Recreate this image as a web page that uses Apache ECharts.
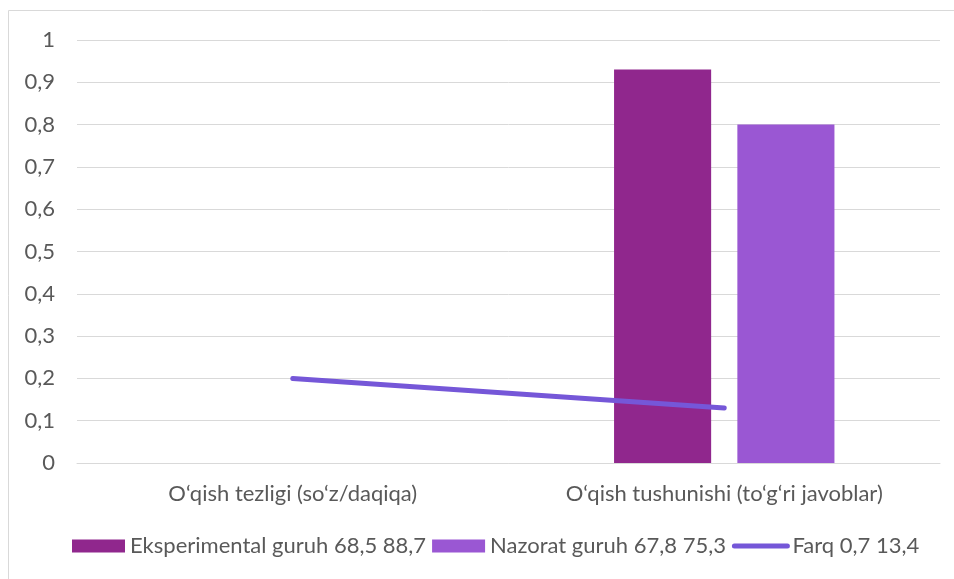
<!DOCTYPE html>
<html>
<head>
<meta charset="utf-8">
<script src="https://cdn.jsdelivr.net/npm/echarts@6/dist/echarts.min.js"></script>
<style>
  html, body { margin: 0; padding: 0; background: #fff; }
  #main { width: 954px; height: 579px; }
</style>
</head>
<body>
<div id="main"></div>
<script>
// toifalar (x o'qi)
var categories = ['O\u2018qish tezligi (so\u2018z/daqiqa)', 'O\u2018qish tushunishi (to\u2018g\u2018ri javoblar)'];
// seriya nomlari
var seriesNames = ['Eksperimental guruh 68,5 88,7', 'Nazorat guruh 67,8 75,3', 'Farq 0,7 13,4'];
// qiymatlar (rasmdan o'qilgan)
var eksperimental = [null, 0.93];
var nazorat = [null, 0.80];
var farq = [0.20, 0.13];
// y o'qi belgilari
var yTicks = [0, 0.1, 0.2, 0.3, 0.4, 0.5, 0.6, 0.7, 0.8, 0.9, 1];

var textColor = '#595959';
var fontName = 'Lato';
var fs = 22;

var chart = echarts.init(document.getElementById('main'));
chart.setOption({
  animation: false,
  textStyle: { fontFamily: fontName },
  graphic: [{
    type: 'rect',
    shape: { x: 8.5, y: 10.5, width: 1200, height: 1200 },
    style: { fill: 'none', stroke: '#d9d9d9', lineWidth: 1 },
    silent: true
  }],
  grid: { left: 77, right: 14, top: 40, bottom: 116 },
  legend: {
    bottom: 17,
    left: 67,
    itemWidth: 53,
    itemHeight: 13,
    itemGap: 6,
    textStyle: { color: textColor, fontSize: fs, fontFamily: fontName },
    data: [
      { name: seriesNames[0], icon: 'rect' },
      { name: seriesNames[1], icon: 'rect' },
      { name: seriesNames[2], itemStyle: { opacity: 0 }, lineStyle: { width: 5, cap: 'round' } }
    ]
  },
  xAxis: {
    type: 'category',
    data: categories,
    axisLine: { show: true, lineStyle: { color: '#d9d9d9' } },
    axisTick: { show: false },
    axisLabel: { color: textColor, fontSize: fs, margin: 20 }
  },
  yAxis: {
    type: 'value',
    min: yTicks[0],
    max: yTicks[yTicks.length - 1],
    interval: 0.1,
    axisLine: { show: false },
    axisTick: { show: false },
    splitLine: { lineStyle: { color: '#d9d9d9', width: 1 } },
    axisLabel: {
      color: textColor,
      fontSize: fs,
      margin: 22,
      formatter: function (v) { return String(Math.round(v * 10) / 10).replace('.', ','); }
    }
  },
  series: [
    {
      name: seriesNames[0],
      type: 'bar',
      data: eksperimental,
      barWidth: '22.5%',
      barGap: '27%',
      itemStyle: { color: '#90278d' }
    },
    {
      name: seriesNames[1],
      type: 'bar',
      data: nazorat,
      barWidth: '22.5%',
      itemStyle: { color: '#9a57d3' }
    },
    {
      name: seriesNames[2],
      type: 'line',
      data: farq,
      symbol: 'none',
      lineStyle: { color: '#7557d8', width: 5, cap: 'round' },
      itemStyle: { color: '#7557d8' }
    }
  ]
});
</script>
</body>
</html>
